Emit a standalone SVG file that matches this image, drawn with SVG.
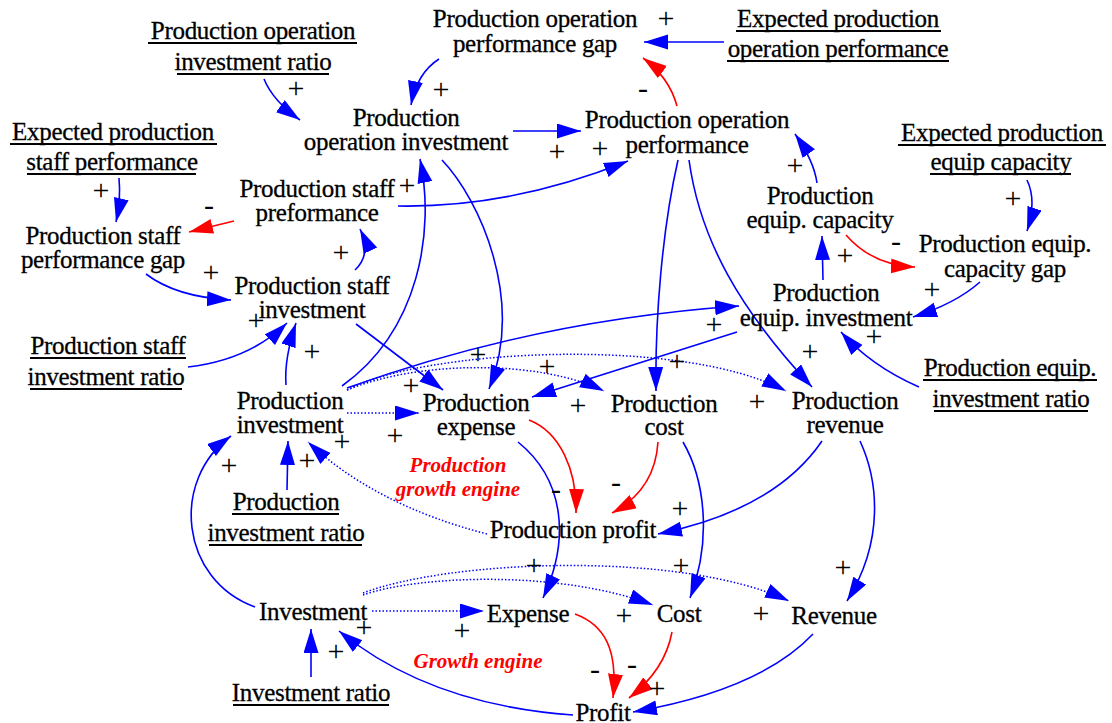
<svg xmlns="http://www.w3.org/2000/svg" width="1112" height="723" viewBox="0 0 1112 723">
  <defs>
    <marker id="ab" markerUnits="userSpaceOnUse" markerWidth="26" markerHeight="18" refX="24" refY="7.5" orient="auto">
      <path d="M0,0 L24,7.5 L0,15 z" fill="#0000ff"/>
    </marker>
    <marker id="ar" markerUnits="userSpaceOnUse" markerWidth="26" markerHeight="18" refX="24" refY="7.5" orient="auto">
      <path d="M0,0 L24,7.5 L0,15 z" fill="#ff0000"/>
    </marker>
    <style>
      .t { font-family: "Liberation Serif", "Times New Roman", serif; font-size: 25px; fill: #000; stroke: #000; stroke-width: 0.3px; text-anchor: middle; letter-spacing: -0.3px; }
      .s { font-family: "Liberation Serif", "Times New Roman", serif; font-size: 30px; fill: #000; text-anchor: middle; }
      .lp { font-family: "Liberation Serif", "Times New Roman", serif; font-size: 21px; font-weight: bold; font-style: italic; fill: #ff0000; text-anchor: middle; }
      .ul { stroke: #000; stroke-width: 2; }
      .b { fill: none; stroke: #0000ff; stroke-width: 1.6; marker-end: url(#ab); }
      .r { fill: none; stroke: #ff0000; stroke-width: 1.6; marker-end: url(#ar); }
      .d { fill: none; stroke: #0000ff; stroke-width: 1.5; stroke-dasharray: 1.5 2; marker-end: url(#ab); }
    </style>
  </defs>
  <rect width="1112" height="723" fill="#fff"/>

  <!-- causal links: solid blue (+), red (-), dotted blue (delayed/indirect) -->
  <g id="connectors">
    <path class="b" d="M724,42 L644,42"/>
    <path class="b" d="M439,59 Q417,73 411,105"/>
    <path class="b" d="M264,79 Q273,101 300,120"/>
    <path class="b" d="M513,131 L581,131"/>
    <path class="b" d="M398,206 Q511,208 628,161"/>
    <path class="b" d="M817,183 Q814,161 795,134"/>
    <path class="b" d="M119,178 Q121,200 116,222"/>
    <path class="b" d="M355,270 Q372,254 360,229"/>
    <path class="b" d="M146,274 Q176,297 231,300"/>
    <path class="b" d="M188,367 Q249,360 287,323"/>
    <path class="b" d="M286,385 Q284,359 296,323"/>
    <path class="b" d="M342,386 C420,330 435,230 420,159"/>
    <path class="b" d="M442,160 C480,200 525,300 489,389"/>
    <path class="b" d="M356,324 L443,390"/>
    <path class="b" d="M347,388 Q536,320 739,306"/>
    <path class="b" d="M737,332 L532,397"/>
    <path class="b" d="M678,160 C662,230 655,320 656,391"/>
    <path class="b" d="M689,160 C700,240 740,310 812,387"/>
    <path class="b" d="M823,280 L822,236"/>
    <path class="b" d="M980,282 Q955,304 913,317"/>
    <path class="b" d="M1027,180 Q1037,201 1027,231"/>
    <path class="b" d="M919,387 Q871,366 841,332"/>
    <path class="b" d="M287,490 L288,441"/>
    <path class="b" d="M255,607 C180,580 170,480 231,436"/>
    <path class="b" d="M822,441 Q775,510 658,534"/>
    <path class="b" d="M518,442 C565,480 570,540 543,598"/>
    <path class="b" d="M683,442 C705,480 712,540 690,598"/>
    <path class="b" d="M860,441 C878,480 885,540 847,601"/>
    <path class="b" d="M813,634 Q760,690 633,712"/>
    <path class="b" d="M573,715 Q430,705 339,631"/>
    <path class="b" d="M311,677 L311,629"/>

    <path class="r" d="M677,106 Q669,77 643,58"/>
    <path class="r" d="M234,221 L189,232"/>
    <path class="r" d="M846,235 Q872,265 915,267"/>
    <path class="r" d="M529,420 C560,432 577,470 576,513"/>
    <path class="r" d="M658,442 Q655,490 612,513"/>
    <path class="r" d="M575,614 C605,625 618,650 613,698"/>
    <path class="r" d="M672,632 Q665,670 629,698"/>

    <path class="d" d="M347,413 L419,413"/>
    <path class="d" d="M347,390 C420,360 540,360 604,391"/>
    <path class="d" d="M347,390 C420,350 680,335 786,391"/>
    <path class="d" d="M487,534 Q375,505 308,442"/>
    <path class="d" d="M372,611 L484,611"/>
    <path class="d" d="M363,595 C420,575 560,570 653,605"/>
    <path class="d" d="M363,593 C450,560 680,550 789,601"/>
  </g>

  <!-- link polarities -->
  <g id="polarities" class="s">
    <text x="666" y="27.5">+</text>
    <text x="643" y="98">-</text>
    <text x="296" y="97.5">+</text>
    <text x="441" y="98.5">+</text>
    <text x="557" y="160.5">+</text>
    <text x="600" y="157.5">+</text>
    <text x="795" y="174.5">+</text>
    <text x="101" y="199.5">+</text>
    <text x="209" y="215">-</text>
    <text x="407" y="194.5">+</text>
    <text x="341" y="261.5">+</text>
    <text x="1013" y="207.5">+</text>
    <text x="896" y="251">-</text>
    <text x="845" y="264.5">+</text>
    <text x="211" y="281.5">+</text>
    <text x="932" y="298.5">+</text>
    <text x="256" y="329.5">+</text>
    <text x="312" y="360.5">+</text>
    <text x="714" y="333.5">+</text>
    <text x="874" y="345.5">+</text>
    <text x="810" y="360.5">+</text>
    <text x="677" y="370.5">+</text>
    <text x="478" y="363.5">+</text>
    <text x="547" y="375.5">+</text>
    <text x="411" y="394.5">+</text>
    <text x="578" y="414.5">+</text>
    <text x="757" y="410.5">+</text>
    <text x="395" y="444.5">+</text>
    <text x="342" y="450.5">+</text>
    <text x="307" y="469.5">+</text>
    <text x="229" y="474.5">+</text>
    <text x="556" y="499">-</text>
    <text x="616" y="492">-</text>
    <text x="680" y="517.5">+</text>
    <text x="534" y="574.5">+</text>
    <text x="681" y="574.5">+</text>
    <text x="843" y="576.5">+</text>
    <text x="364" y="636.5">+</text>
    <text x="336" y="660.5">+</text>
    <text x="462" y="639.5">+</text>
    <text x="624" y="624.5">+</text>
    <text x="761" y="622.5">+</text>
    <text x="595" y="679">-</text>
    <text x="632" y="674">-</text>
    <text x="657" y="697.5">+</text>
  </g>

  <!-- variables (underlined = exogenous inputs) -->
  <g id="op-perf-gap" class="t"><text x="535" y="27">Production operation</text><text x="535" y="52">performance gap</text></g>
  <g id="exp-op-perf">
    <text class="t" x="838" y="27">Expected production</text><text class="t" x="838" y="57">operation performance</text>
    <line class="ul" x1="736" y1="31" x2="941" y2="31"/><line class="ul" x1="727" y1="61" x2="949" y2="61"/>
  </g>
  <g id="op-inv-ratio">
    <text class="t" x="253" y="39">Production operation</text><text class="t" x="253" y="70">investment ratio</text>
    <line class="ul" x1="148" y1="43" x2="357" y2="43"/><line class="ul" x1="177" y1="74" x2="329" y2="74"/>
  </g>
  <g id="op-inv" class="t"><text x="406" y="126">Production</text><text x="406" y="150">operation investment</text></g>
  <g id="op-perf" class="t"><text x="687" y="128">Production operation</text><text x="687" y="153">performance</text></g>
  <g id="exp-staff-perf">
    <text class="t" x="113" y="140">Expected production</text><text class="t" x="112" y="170">staff performance</text>
    <line class="ul" x1="10" y1="144" x2="217" y2="144"/><line class="ul" x1="27" y1="174" x2="196" y2="174"/>
  </g>
  <g id="exp-equip-cap">
    <text class="t" x="1002" y="141">Expected production</text><text class="t" x="1001" y="170">equip capacity</text>
    <line class="ul" x1="898" y1="145" x2="1106" y2="145"/><line class="ul" x1="930" y1="174" x2="1071" y2="174"/>
  </g>
  <g id="staff-perf" class="t"><text x="317" y="197">Production staff</text><text x="317" y="221">preformance</text></g>
  <g id="equip-cap" class="t"><text x="820" y="204">Production</text><text x="820" y="228">equip. capacity</text></g>
  <g id="staff-perf-gap" class="t"><text x="103" y="244">Production staff</text><text x="103" y="268">performance gap</text></g>
  <g id="equip-cap-gap" class="t"><text x="1005" y="252">Production equip.</text><text x="1005" y="277">capacity gap</text></g>
  <g id="staff-inv" class="t"><text x="312" y="294">Production staff</text><text x="312" y="318">investment</text></g>
  <g id="equip-inv" class="t"><text x="826" y="301">Production</text><text x="826" y="326">equip. investment</text></g>
  <g id="staff-inv-ratio">
    <text class="t" x="108" y="354">Production staff</text><text class="t" x="106" y="385">investment ratio</text>
    <line class="ul" x1="30" y1="358" x2="186" y2="358"/><line class="ul" x1="30" y1="389" x2="182" y2="389"/>
  </g>
  <g id="equip-inv-ratio">
    <text class="t" x="1010" y="376">Production equip.</text><text class="t" x="1011" y="407">investment ratio</text>
    <line class="ul" x1="923" y1="380" x2="1097" y2="380"/><line class="ul" x1="934" y1="411" x2="1088" y2="411"/>
  </g>
  <g id="prod-inv" class="t"><text x="290" y="409">Production</text><text x="290" y="433">investment</text></g>
  <g id="prod-expense" class="t"><text x="476" y="411">Production</text><text x="476" y="435">expense</text></g>
  <g id="prod-cost" class="t"><text x="664" y="412">Production</text><text x="664" y="435">cost</text></g>
  <g id="prod-revenue" class="t"><text x="845" y="409">Production</text><text x="845" y="433">revenue</text></g>
  <g id="prod-growth-loop" class="lp"><text x="458" y="472">Production</text><text x="458" y="496">growth engine</text></g>
  <g id="prod-inv-ratio">
    <text class="t" x="286" y="510">Production</text><text class="t" x="286" y="541">investment ratio</text>
    <line class="ul" x1="232" y1="514" x2="339" y2="514"/><line class="ul" x1="209" y1="545" x2="362" y2="545"/>
  </g>
  <g id="prod-profit" class="t"><text x="573" y="538">Production profit</text></g>
  <g id="investment" class="t"><text x="313" y="620">Investment</text></g>
  <g id="expense" class="t"><text x="528" y="622">Expense</text></g>
  <g id="cost" class="t"><text x="679" y="622">Cost</text></g>
  <g id="revenue" class="t"><text x="834" y="624">Revenue</text></g>
  <g id="growth-loop" class="lp"><text x="478" y="668">Growth engine</text></g>
  <g id="inv-ratio">
    <text class="t" x="311" y="701">Investment ratio</text>
    <line class="ul" x1="233" y1="705" x2="389" y2="705"/>
  </g>
  <g id="profit" class="t"><text x="603" y="721">Profit</text></g>
</svg>
